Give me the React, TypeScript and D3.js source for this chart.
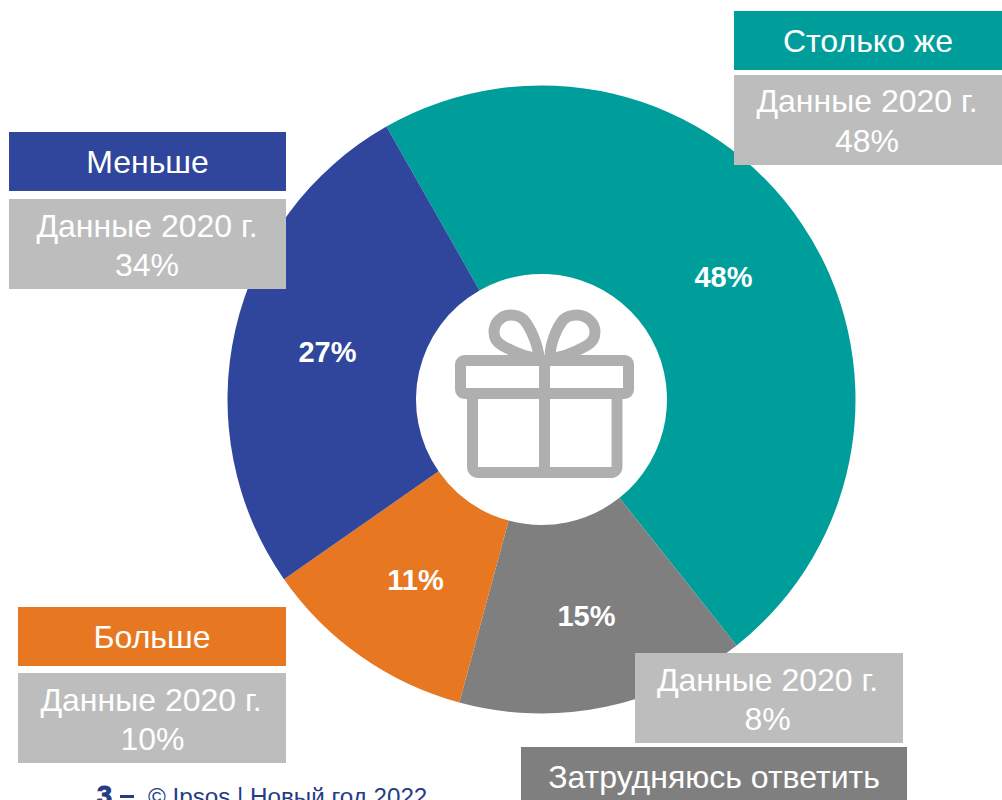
import React from "react";
import * as d3 from "d3";

const sliceNames = ["Столько же", "Затрудняюсь ответить", "Больше", "Меньше"];
const sliceShares = [47.6, 14.9, 11.1, 26.5];
const sliceColors = ["#009e9b", "#7f7f7f", "#e87722", "#2f469c"];
const prior2020 = ["48%", "8%", "10%", "34%"];
const priorPrefix = "Данные 2020 г.";
const footerText = "© Ipsos | Новый год 2022";
const pageNumber = "3";

const FONT = "'Liberation Sans', Arial, sans-serif";
const cx = 541.5, cy = 399.5, R = 314, r0 = 125.5;

// header box + grey box for each slice
const boxes = [
  { h: [734, 11, 268, 59], g: [734, 75, 268, 90], gt: [867, 112, 152] },
  { h: [521, 747, 386, 59], g: [635, 653, 268, 90], gt: [767.5, 691, 730] },
  { h: [18, 607, 268, 59], g: [18, 673, 268, 90], gt: [151, 711, 750] },
  { h: [9, 132, 277, 59], g: [9, 199, 277, 90], gt: [147, 237, 276] },
];
const labelPos = [
  [723.5, 287],
  [586.5, 626],
  [415.5, 590],
  [327.5, 362],
];

export default function App() {
  const pie = d3.pie<number>().sort(null)
    .startAngle((-29.6 * Math.PI) / 180)
    .endAngle((330.4 * Math.PI) / 180);
  const arc = d3.arc<d3.PieArcDatum<number>>().innerRadius(r0).outerRadius(R);
  const arcs = pie(sliceShares);
  return (
    <svg width={1002} height={800} style={{ position: "absolute", left: 0, top: 0, display: "block", background: "#fff" }} fontFamily={FONT}>
      <g transform={`translate(${cx},${cy})`}>
        {arcs.map((a, i) => (
          <path key={i} d={arc(a) as string} fill={sliceColors[i]} />
        ))}
      </g>
      {arcs.map((_, i) => (
        <text key={i} x={labelPos[i][0]} y={labelPos[i][1]} textAnchor="middle" fill="#fff" fontSize={29} fontWeight={700}>
          {Math.round(sliceShares[i])}%
        </text>
      ))}
      <g fill="none" stroke="#afafaf" strokeWidth={11} strokeLinejoin="round">
        <rect x={460.5} y={360.5} width={168} height={33} rx={4} />
        <path d="M472.5,394 V466 Q472.5,472.5 479,472.5 H610 Q617,472.5 617,466 V394" />
        <path d="M544.5,360 V472" />
        <path d="M539,358 C538,344 530,327 524,320 C520,316 516,315 511,315 C501,315 494,323 494,332 C494,338 497,343 503,346 C514,352 526,358 539,358" />
        <path d="M550,358 C550,344 556,329 563,320 C567,316 572,315 577,315 C587,315 595,323 595,332 C595,338 592,343 586,346 C575,352 562,358 550,358" />
      </g>
      {boxes.map((b, i) => (
        <g key={i}>
          <rect x={b.g[0]} y={b.g[1]} width={b.g[2]} height={b.g[3]} fill="#bdbdbd" />
          <rect x={b.h[0]} y={b.h[1]} width={b.h[2]} height={b.h[3]} fill={sliceColors[i]} />
          <text x={b.h[0] + b.h[2] / 2} y={b.h[1] + 41} textAnchor="middle" fill="#fff" fontSize={32}>
            {sliceNames[i]}
          </text>
          <text x={b.gt[0]} y={b.gt[1]} textAnchor="middle" fill="#fff" fontSize={32}>{priorPrefix}</text>
          <text x={b.gt[0] + (i === 2 ? 1.5 : 0)} y={b.gt[2]} textAnchor="middle" fill="#fff" fontSize={32}>{prior2020[i]}</text>
        </g>
      ))}
      <text x={97} y={805} fill="#253c85" fontSize={27} fontWeight={700} stroke="#253c85" strokeWidth={1}>{pageNumber}</text>
      <rect x={120} y={795} width={14} height={3} fill="#253c85" />
      <text x={148} y={804.5} fill="#253c85" fontSize={24.2}>{footerText}</text>
    </svg>
  );
}
